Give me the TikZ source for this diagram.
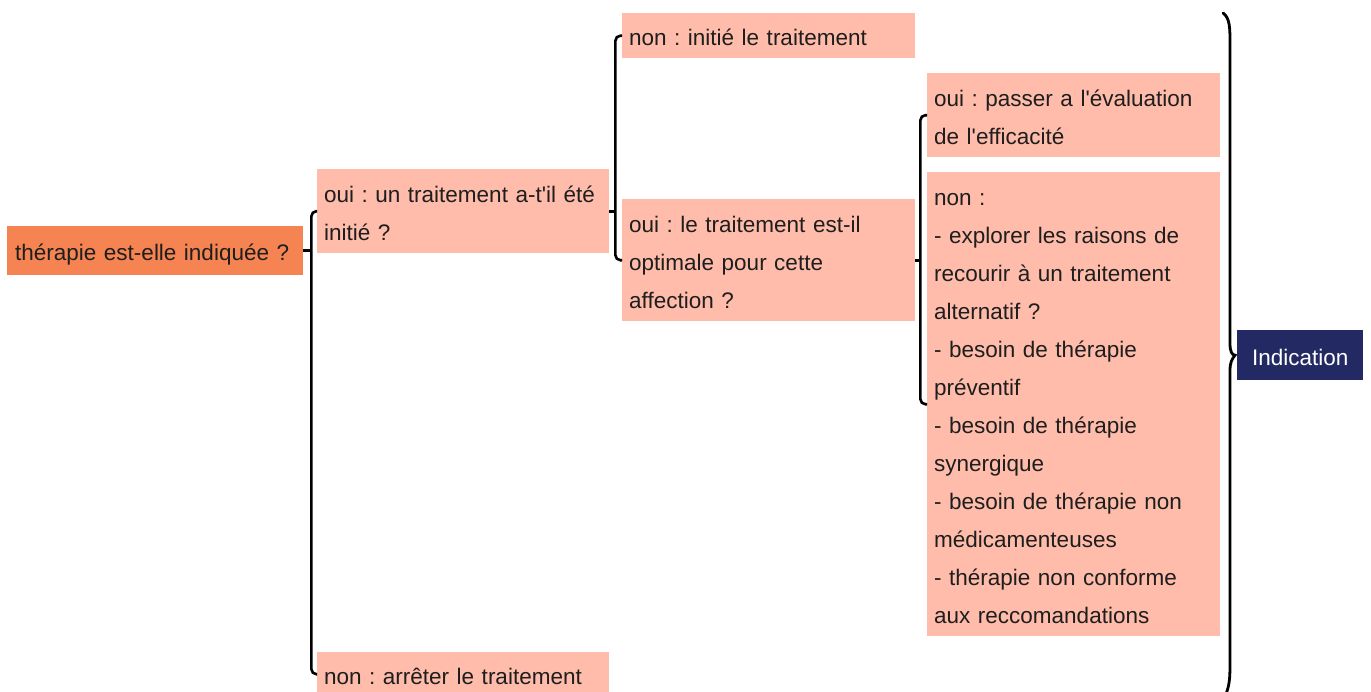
\documentclass[tikz,border=0pt]{standalone}
\usepackage{fontspec}
\setmainfont{Liberation Sans}[Ligatures=TeXOff]
\definecolor{rootc}{RGB}{245,132,82}
\definecolor{boxc}{RGB}{255,188,170}
\definecolor{navyc}{RGB}{35,42,99}
\definecolor{txt}{RGB}{30,30,30}
\frenchspacing
\newcommand{\topst}{\rule{0pt}{25pt}}
\newcommand{\botst}{\rule[-5pt]{0pt}{5pt}}
\begin{document}
\begin{tikzpicture}[x=1pt,y=-1pt,
  box/.style={fill=boxc, anchor=north west, inner xsep=7pt, inner ysep=0pt,
    align=left, text=txt, font=\fontsize{22.5}{38}\selectfont\frenchspacing,
    execute at begin node=\topst, execute at end node=\botst},
  rootbox/.style={box, fill=rootc, inner xsep=8pt},
  indbox/.style={fill=navyc, anchor=north west, text=white, inner sep=0pt,
    minimum width=126pt, minimum height=50pt, font=\fontsize{22.5}{38}\selectfont,
    execute at begin node=\topst, execute at end node=\botst},
  conn/.style={line width=2.6pt, black, rounded corners=5pt},
  bracec/.style={line width=2.8pt, black, line cap=round}]
\useasboundingbox (0,0) rectangle (1371,691);

\node[rootbox, text width=280pt, minimum height=49pt] (root) at (7,226) {thérapie est-elle indiquée ?};
\node[box, text width=278pt, minimum height=84pt] (oui1) at (317,169) {oui : un traitement a-t'il été\\initié ?};
\node[box, text width=278pt, minimum height=44pt] (non1) at (317,652) {non : arrêter le traitement};
\node[box, text width=279pt, minimum height=45pt] (non2) at (622,13) {non : initié le traitement};
\node[box, text width=279pt, minimum height=122pt] (opt) at (622,199) {oui : le traitement est-il\\optimale pour cette\\affection ?};
\node[box, text width=279pt, minimum height=84pt] (eval) at (927,73) {oui : passer a l'évaluation\\de l'efficacité};
\node[box, text width=279pt, minimum height=464pt] (nonlist) at (927,172) {non :\\- explorer les raisons de\\recourir à un traitement\\alternatif ?\\- besoin de thérapie\\préventif\\- besoin de thérapie\\synergique\\- besoin de thérapie non\\médicamenteuses\\- thérapie non conforme\\aux reccomandations};
\node[indbox] (ind) at (1237,330) {Indication};

\coordinate (j1) at ([xshift=8pt]root.east);
\coordinate (j2) at ([xshift=6pt]oui1.east);
\coordinate (j3) at ([xshift=5pt]opt.east);
\coordinate (tip) at ([xshift=-2pt]ind.west);

\draw[conn] (root.east) -- (j1);
\draw[conn] (oui1.west) -| (j1) |- (non1.west);
\draw[conn] (oui1.east) -- (j2);
\draw[conn] (non2.west) -| (j2) |- (opt.west);
\draw[conn] (opt.east) -- (j3);
\draw[conn] (eval.west) -| (j3) |- (nonlist.west);

\draw[bracec] (1223,13) .. controls (1230,18) and (1230,28) .. (1230,45)
  -- (1230,343) .. controls (1230,352) and (1232,355) .. (tip)
  .. controls (1232,359) and (1230,362) .. (1230,371)
  -- (1230,665) .. controls (1230,680) and (1229,686) .. (1226,694);
\end{tikzpicture}
\end{document}
